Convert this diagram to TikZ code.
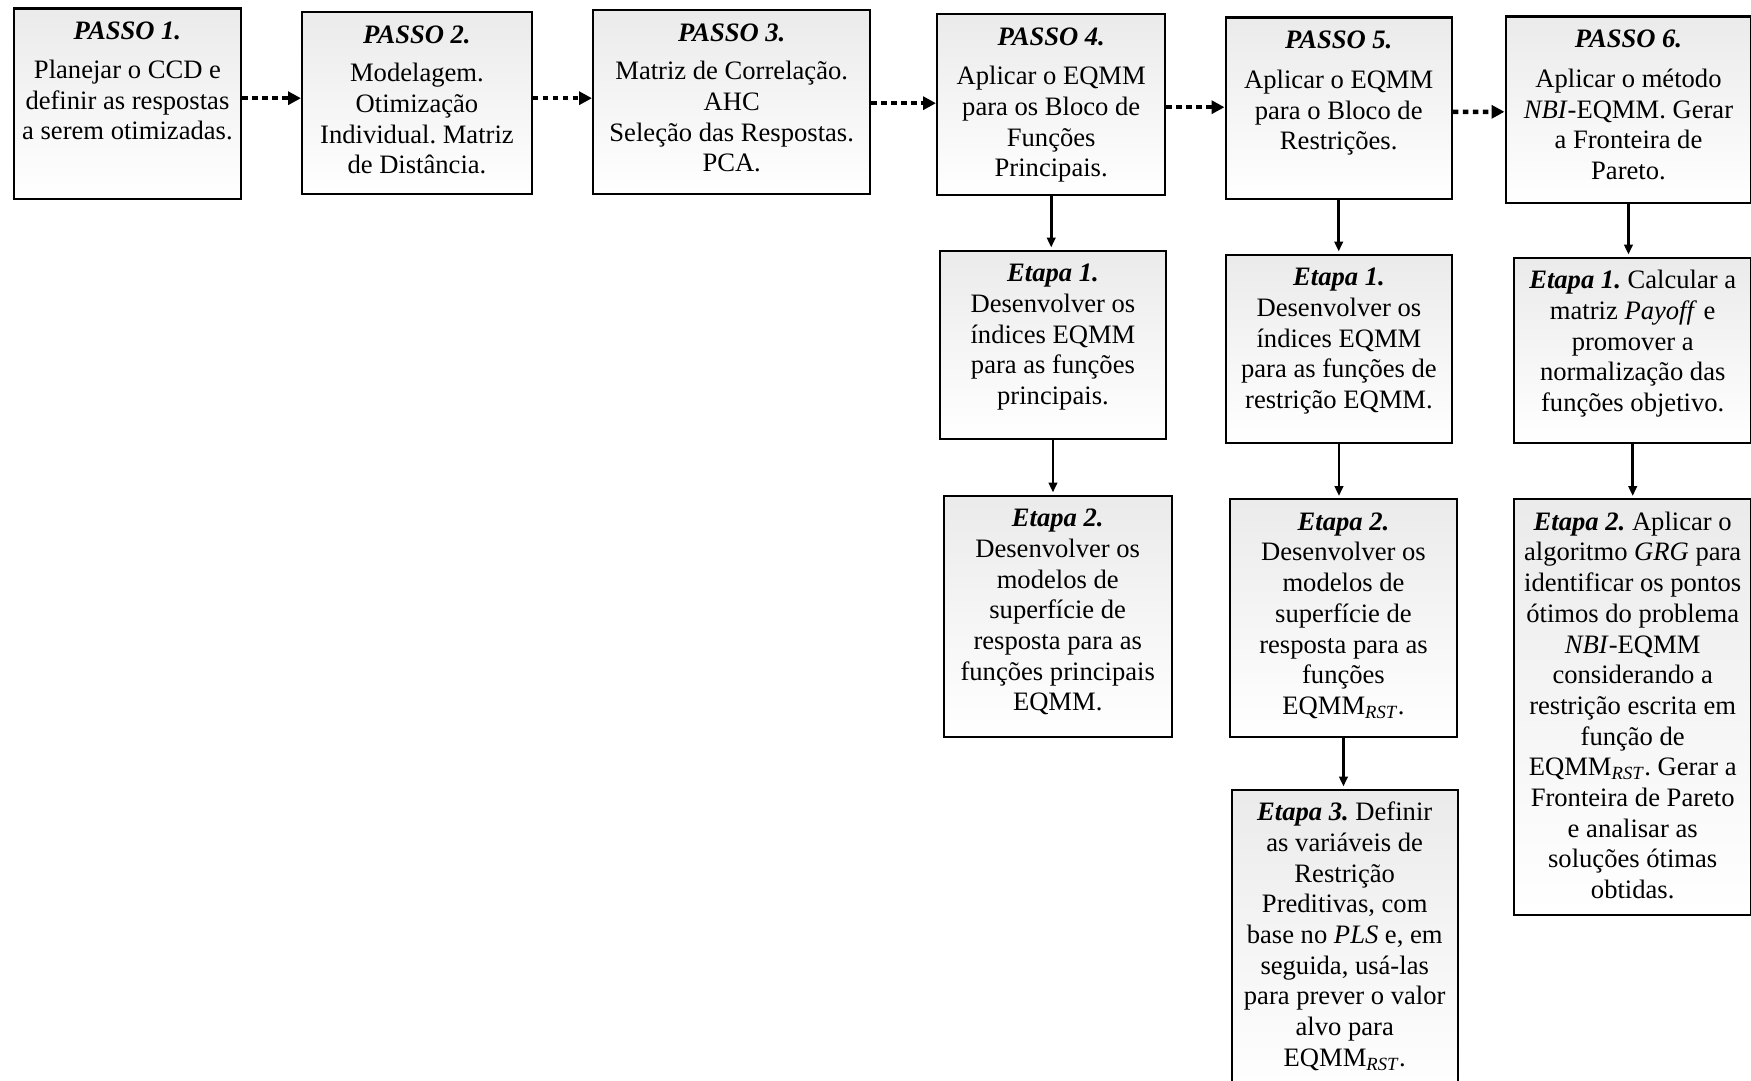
\documentclass[tikz,border=0pt]{standalone}
\usepackage{fontspec}
\setmainfont{Liberation Serif}
\usetikzlibrary{arrows.meta}
\frenchspacing
\newcommand\bxt[3]{\parbox[t][#2][t]{#1}{\fontsize{26.6pt}{30.7pt}\selectfont\frenchspacing\centering\vspace*{12pt}\rule{0pt}{19pt}#3\par}}
\newcommand\ttl[1]{\textbf{\textit{#1}}}
\newcommand\rst{EQMM\textsubscript{\textit{RST}}}
\tikzset{
  stepbox/.style={draw=black, line width=2.4pt, inner sep=0pt, anchor=north west,
    top color=black!8, bottom color=white},
  dotarrow/.style={line width=4.5pt, dash pattern=on 5.5pt off 4.5pt,
    -{Triangle[length=13pt,width=13pt]}},
  solarrow/.style={line width=2.7pt, shorten >=2pt, -{Triangle[length=10pt,width=8.5pt]}}
}
\begin{document}
\begin{tikzpicture}[x=1pt,y=-1pt]
\useasboundingbox (0,0) rectangle (1751,1081);
% top row
\node[stepbox] (b1) at (12.5,7.5) {\bxt{227.5pt}{190pt}{\ttl{PASSO 1.}\\[8pt]Planejar o CCD e\\definir as respostas\\a serem otimizadas.}};
\node[stepbox] (b2) at (301,11) {\bxt{229.5pt}{182pt}{\ttl{PASSO 2.}\\[8pt]Modelagem.\\Otimização\\Individual. Matriz\\de Distância.}};
\node[stepbox] (b3) at (592,9) {\bxt{277pt}{184pt}{\ttl{PASSO 3.}\\[8pt]Matriz de Correlação.\\AHC\\Seleção das Respostas.\\PCA.}};
\node[stepbox] (b4) at (936,13) {\bxt{228pt}{181pt}{\ttl{PASSO 4.}\\[9pt]Aplicar o EQMM\\para os Bloco de\\Funções\\Principais.}};
\node[stepbox] (b5) at (1224.5,16.5) {\bxt{226pt}{181pt}{\ttl{PASSO 5.}\\[9pt]Aplicar o EQMM\\para o Bloco de\\Restrições.}};
\node[stepbox] (b6) at (1504.5,15.5) {\bxt{245.5pt}{186pt}{\ttl{PASSO 6.}\\[9pt]Aplicar o método\\\textit{NBI}-EQMM. Gerar\\a Fronteira de\\Pareto.}};
% column 4
\node[stepbox] (e41) at (939,249.5) {\bxt{225.5pt}{188pt}{\ttl{Etapa 1.}\\Desenvolver os\\índices EQMM\\para as funções\\principais.}};
\node[stepbox] (e42) at (942.5,494.5) {\bxt{228pt}{241.5pt}{\ttl{Etapa 2.}\\Desenvolver os\\modelos de\\superfície de\\resposta para as\\funções principais\\EQMM.}};
% column 5
\node[stepbox] (e51) at (1225,253.5) {\bxt{225.5pt}{188.5pt}{\ttl{Etapa 1.}\\Desenvolver os\\índices EQMM\\para as funções de\\restrição EQMM.}};
\node[stepbox] (e52) at (1228.5,498) {\bxt{227.5pt}{238pt}{\ttl{Etapa 2.}\\Desenvolver os\\modelos de\\superfície de\\resposta para as\\funções\\\rst.}};
\node[stepbox] (e53) at (1230.5,788.5) {\bxt{226pt}{310pt}{\ttl{Etapa 3.} Definir\\as variáveis de\\Restrição\\Preditivas, com\\base no \textit{PLS} e, em\\seguida, usá-las\\para prever o valor\\alvo para\\\rst.}};
% column 6
\node[stepbox] (e61) at (1513,256.5) {\bxt{237pt}{185.5pt}{\ttl{Etapa 1.} Calcular a\\matriz \textit{Payoff} e\\promover a\\normalização das\\funções objetivo.}};
\node[stepbox] (e62) at (1513,498) {\bxt{237pt}{415.5pt}{\ttl{Etapa 2.} Aplicar o\\algoritmo \textit{GRG} para\\identificar os pontos\\ótimos do problema\\\textit{NBI}-EQMM\\considerando a\\restrição escrita em\\função de\\\rst. Gerar a\\Fronteira de Pareto\\e analisar as\\soluções ótimas\\obtidas.}};
% dotted arrows
\draw[dotarrow] ([yshift=5.5pt]b1.east) -- ([yshift=5pt]b2.west);
\draw[dotarrow] ([yshift=5pt]b2.east) -- ([yshift=4pt]b3.west);
\draw[dotarrow] ([yshift=-1pt]b3.east) -- ([yshift=1.5pt]b4.west);
\draw[dotarrow] ([yshift=-2.5pt]b4.east) -- ([yshift=1pt]b5.west);
\draw[dotarrow] ([yshift=-3.7pt]b5.east) -- ([yshift=-2.1pt]b6.west);
% solid arrows
\draw[solarrow] (b4.south) -- (b4.south |- e41.north);
\draw[solarrow] (e41.south) -- (e41.south |- e42.north);
\draw[solarrow] (b5.south) -- (b5.south |- e51.north);
\draw[solarrow] (e51.south) -- (e51.south |- e52.north);
\draw[solarrow] (e52.south) -- (e52.south |- e53.north);
\draw[solarrow] (b6.south) -- (b6.south |- e61.north);
\draw[solarrow] (e61.south) -- (e61.south |- e62.north);
\end{tikzpicture}
\end{document}
